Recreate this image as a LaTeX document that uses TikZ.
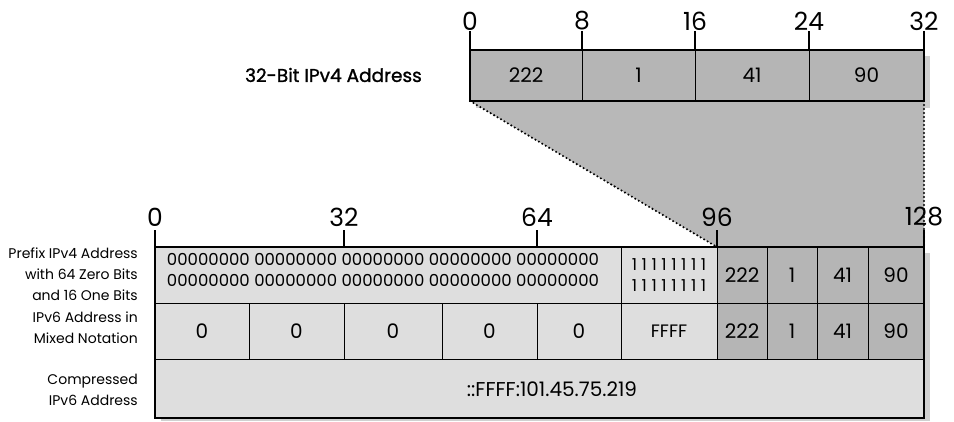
\documentclass[tikz,border=0pt]{standalone}
\usepackage{fontspec}
\setmainfont{Poppins}
\newfontfamily\titlefont[FakeBold=1.2]{Poppins}
\newcommand\wone{1\kern4.6pt}
\begin{document}
\begin{tikzpicture}[x=1pt,y=-1pt,
  cell/.style={draw=black, line width=0.9pt, inner sep=0pt, outer sep=0pt},
  dk/.style={cell, fill=gdark},
  lt/.style={cell, fill=glight},
  bitnum/.style={font=\fontsize{25}{28}\selectfont, inner sep=0pt},
  side/.style={font=\fontsize{14}{21}\selectfont, align=right, anchor=east, inner sep=0pt},
  zeros/.style={font=\fontsize{16.5}{21}\selectfont, align=center, inner sep=0pt},
  tickline/.style={line width=1.8pt},
  outer/.style={line width=1.8pt},
  dotline/.style={line width=2.3pt, line cap=round, dash pattern=on 0pt off 4pt},
]
\definecolor{gdark}{RGB}{181,181,181}
\definecolor{glight}{RGB}{222,222,222}
\definecolor{gshadow}{RGB}{208,208,208}
\definecolor{gtrap}{RGB}{184,184,184}
\newcommand\mycell[7]{\node[#6, minimum width={(#4-#2)*1pt}, minimum height={(#5-#3)*1pt}] (#1) at ({(#2+#4)/2},{(#3+#5)/2}) {#7};}
\newcommand\cn{\fontsize{20}{22}\selectfont}

\useasboundingbox (0,0) rectangle (954,421);

% shadows
\fill[gshadow] (476,56) rectangle (930,108);
\fill[gshadow] (161,253) rectangle (930,421);

% corner coordinates
\coordinate (tl) at (470,101);
\coordinate (tr) at (924,101);
\coordinate (bl) at (717,247);
\coordinate (br) at (924,247);

% trapezoid
\fill[gtrap] (tl) -- (tr) -- (br) -- (bl) -- cycle;

% top box
\mycell{t1}{470}{50}{582}{101}{dk}{\cn 222}
\mycell{t2}{582}{50}{695}{101}{dk}{\cn 1}
\mycell{t3}{695}{50}{809}{101}{dk}{\cn 41}
\mycell{t4}{809}{50}{924}{101}{dk}{\cn 90}
\draw[outer] (470,50) rectangle (924,101);

% title
\node[anchor=east, inner sep=0pt, font=\titlefont\fontsize{18.5}{21}\selectfont] (title) at (422,75) {32-Bit IPv4 Address};

% top ticks and labels
\foreach \xx/\lab/\nm in {470/0/a,582/8/b,695/16/c,809/24/d,924/32/e}{
  \node[bitnum] (top\nm) at (\xx,21) {\lab};
  \draw[tickline] (\xx,31) -- (\xx,50);
}

% row 1
\mycell{zz}{155}{247}{621}{303}{lt}{}
\node[zeros] (zerotext) at (383,270) {00000000 00000000 00000000 00000000 00000000\\00000000 00000000 00000000 00000000 00000000};
\mycell{ones}{621}{247}{717}{303}{lt}{}
\node[zeros] (onetext) at (669,275) {\wone\wone\wone\wone\wone\wone\wone 1\\\wone\wone\wone\wone\wone\wone\wone 1};
\mycell{a1}{717}{247}{767}{303}{dk}{\cn 222}
\mycell{a2}{767}{247}{817}{303}{dk}{\cn 1}
\mycell{a3}{817}{247}{868}{303}{dk}{\cn 41}
\mycell{a4}{868}{247}{924}{303}{dk}{\cn 90}

% row 2
\mycell{m1}{155}{303}{249}{359}{lt}{\cn 0}
\mycell{m2}{249}{303}{344}{359}{lt}{\cn 0}
\mycell{m3}{344}{303}{442}{359}{lt}{\cn 0}
\mycell{m4}{442}{303}{537}{359}{lt}{\cn 0}
\mycell{m5}{537}{303}{621}{359}{lt}{\cn 0}
\mycell{m6}{621}{303}{717}{359}{lt}{\fontsize{18}{20}\selectfont FFFF}
\mycell{b1}{717}{303}{767}{359}{dk}{\cn 222}
\mycell{b2}{767}{303}{817}{359}{dk}{\cn 1}
\mycell{b3}{817}{303}{868}{359}{dk}{\cn 41}
\mycell{b4}{868}{303}{924}{359}{dk}{\cn 90}

% row 3
\mycell{comp}{155}{359}{924}{418}{lt}{}
\node[inner sep=0pt, font=\cn] (comptext) at (552,389) {::FFFF:101.45.75.219};

\draw[outer] (155,247) rectangle (924,418);

% dotted connectors
\draw[dotline] (tl) -- (bl);
\draw[dotline] (tr) -- (br);

% bottom ticks and labels
\foreach \xx/\lab/\nm in {155/0/a,344/32/b,537/64/c,717/96/d,924/128/e}{
  \node[bitnum] (bot\nm) at (\xx,217) {\lab};
  \draw[tickline] (\xx,230) -- (\xx,247);
}

% side labels
\node[side] (lab1) at (138,274) {Prefix IPv4 Address\\with 64 Zero Bits\\and 16 One Bits};
\node[side] (lab2) at (138,328) {IPv6 Address in\\Mixed Notation};
\node[side] (lab3) at (138,390) {Compressed\\IPv6 Address};
\end{tikzpicture}
\end{document}
